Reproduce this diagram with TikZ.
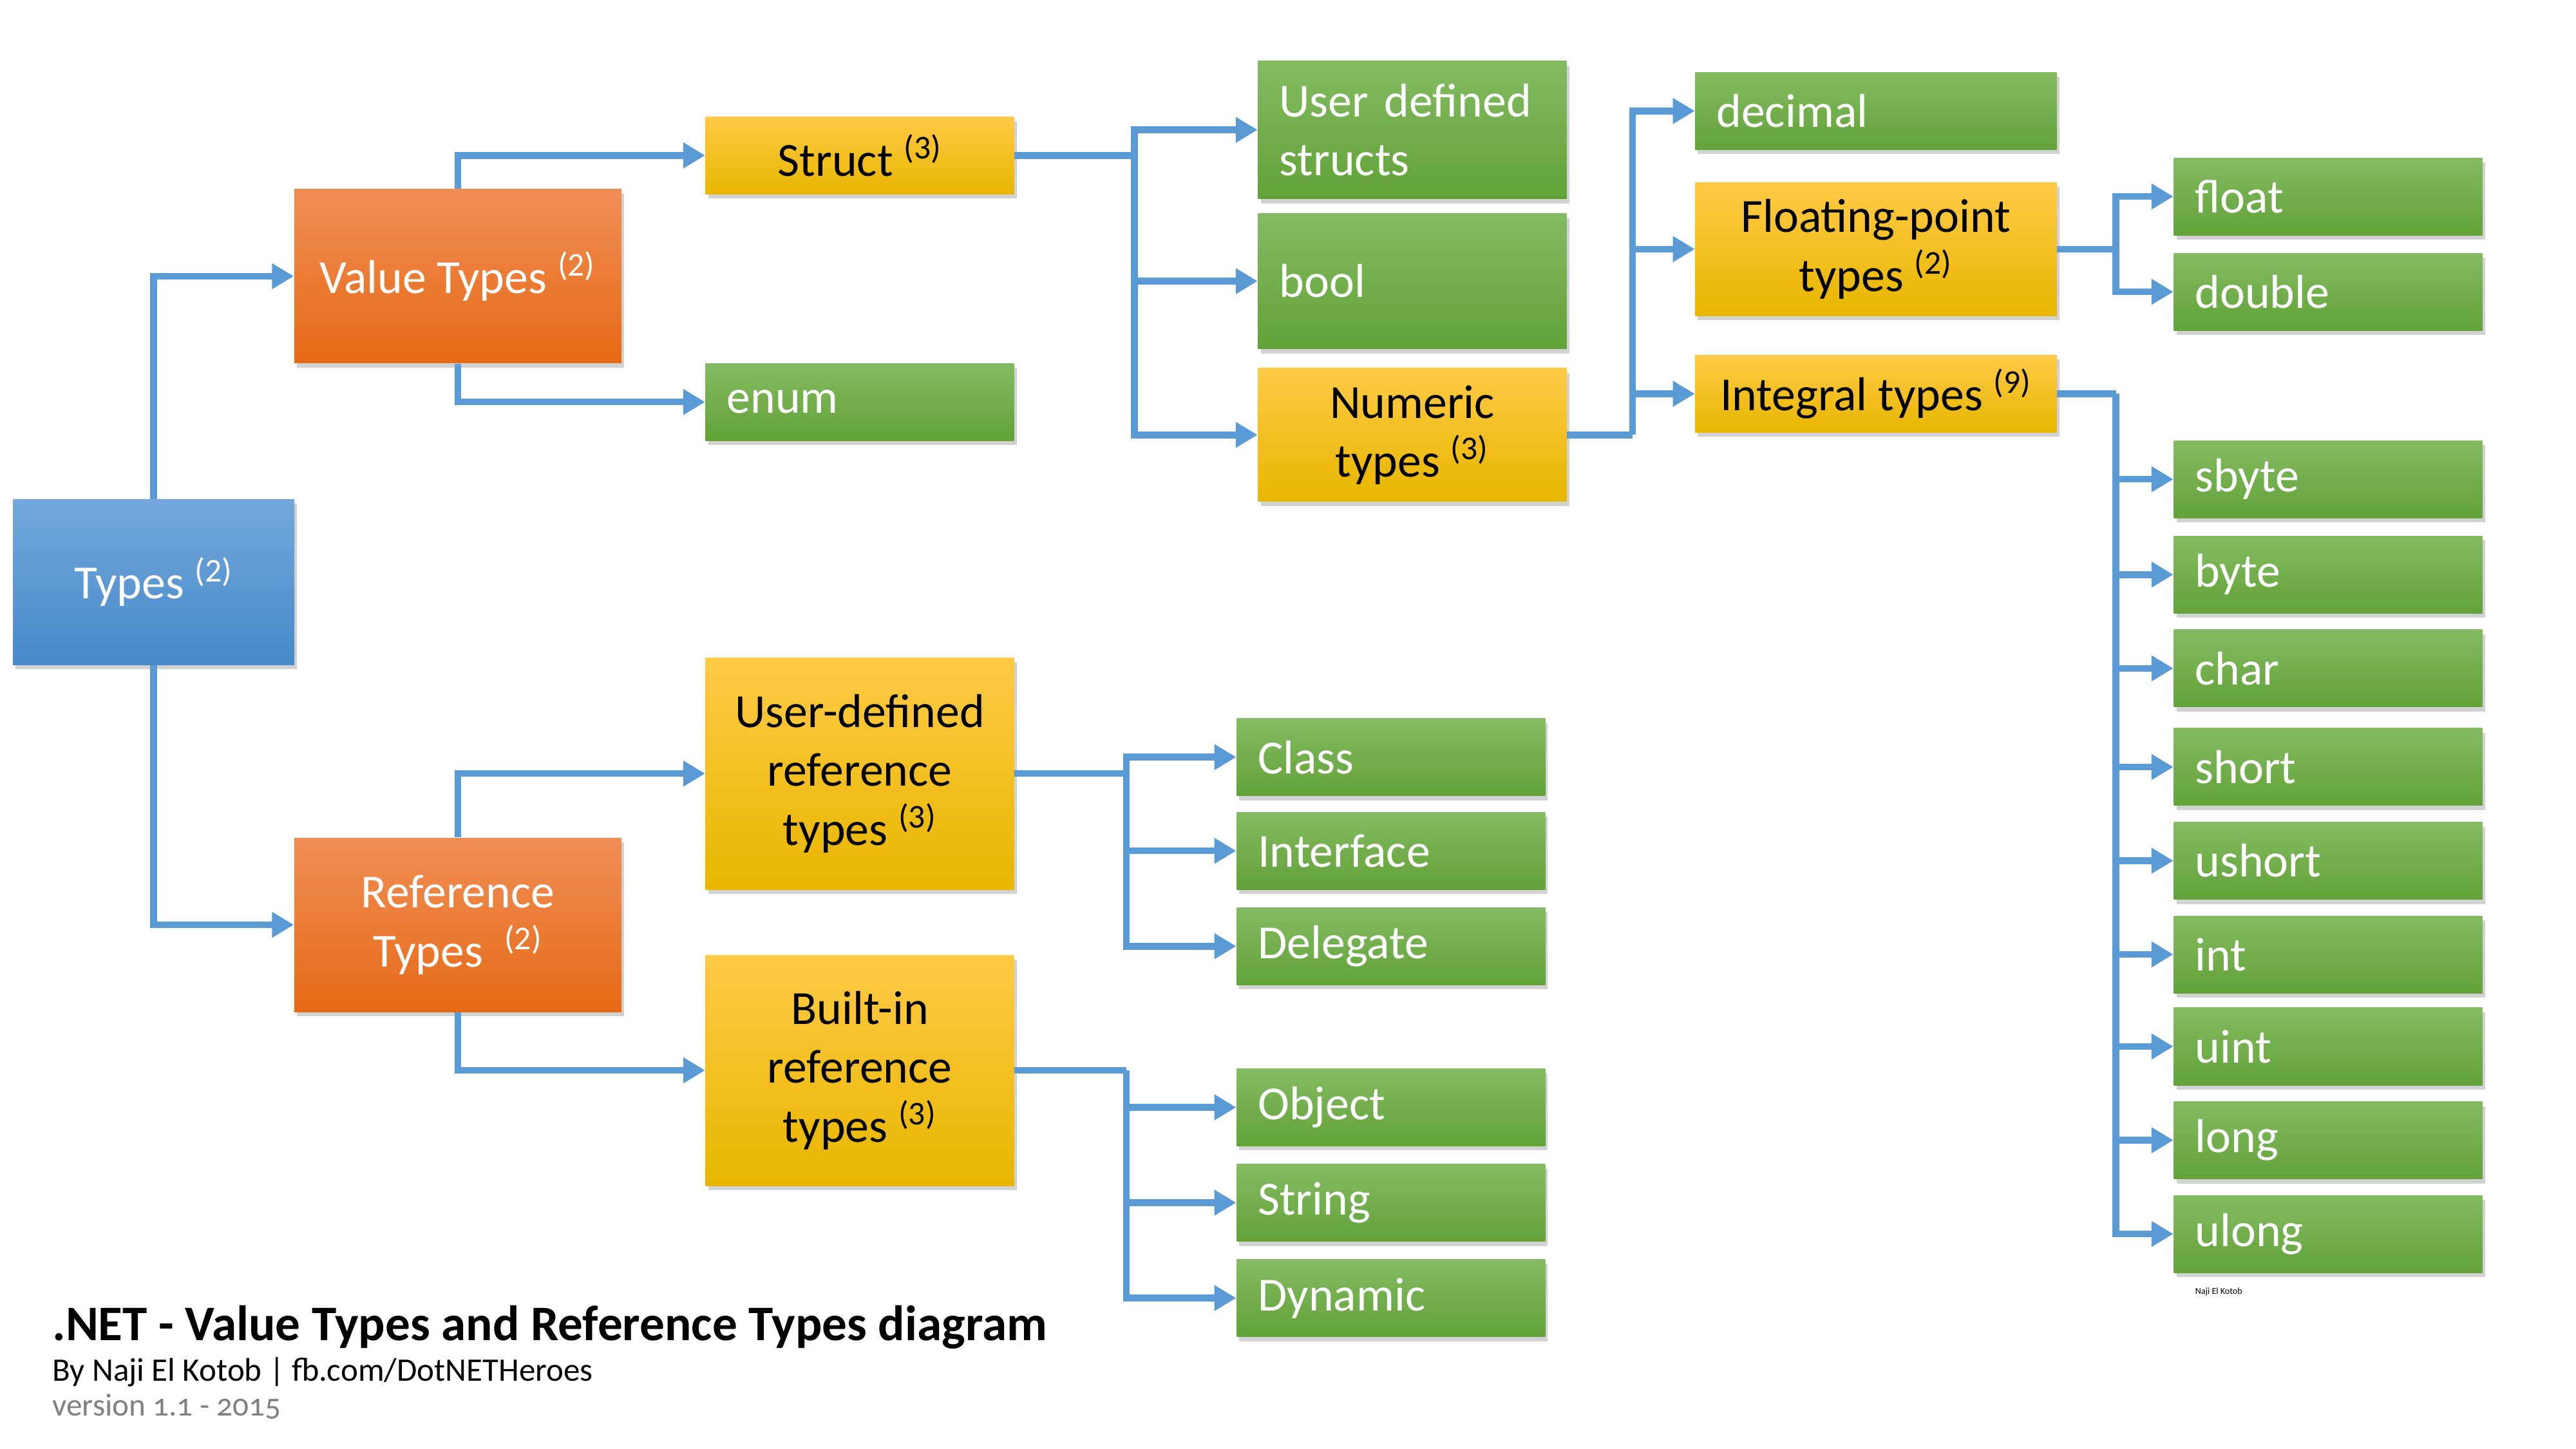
\documentclass[tikz,border=0pt]{standalone}
\usepackage{fontspec}
\setmainfont{Carlito}
\usetikzlibrary{arrows.meta,shadows}

\definecolor{linkblue}{RGB}{91,155,213}
\definecolor{gtop}{RGB}{132,187,98}
\definecolor{gbot}{RGB}{98,162,56}
\definecolor{ytop}{RGB}{255,202,70}
\definecolor{ybot}{RGB}{232,182,0}
\definecolor{otop}{RGB}{241,142,86}
\definecolor{obot}{RGB}{229,106,22}
\definecolor{btop}{RGB}{115,167,219}
\definecolor{bbot}{RGB}{70,138,202}

\newcommand{\cnt}[1]{\textsuperscript{(#1)}}

\tikzset{
  box/.style={rectangle, inner sep=0pt, font=\fontsize{21}{26}\selectfont,
    drop shadow={shadow xshift=0.04cm, shadow yshift=-0.07cm, opacity=0.35}},
  leaf/.style={box, top color=gtop, bottom color=gbot, text=white, align=left,
    text width=4.13cm, inner xsep=0.33cm, minimum height=1.2cm},
  wideleaf/.style={leaf, text width=4.95cm},
  group/.style={box, top color=ytop, bottom color=ybot, text=black, align=center,
    minimum width=4.79cm},
  widegroup/.style={group, minimum width=5.61cm},
  kind/.style={box, top color=otop, bottom color=obot, text=white, align=center,
    minimum width=5.08cm, minimum height=2.7cm},
  link/.style={line width=3pt, draw=linkblue},
  conn/.style={link, -{Triangle[length=0.34cm,width=0.38cm]}},
}

\begin{document}
\begin{tikzpicture}[x=0.02553cm, y=-0.02553cm]
    \useasboundingbox[fill=white] (0,0) rectangle (1566.8,881.3);

    % root and the two kinds
    \node[box, top color=btop, bottom color=bbot, text=white, minimum width=4.37cm, minimum height=2.57cm] (types) at (93.5,354) {Types \cnt{2}};
    \node[kind] (valtypes) at (278.5,168) {Value Types \cnt{2}};
    \node[kind] (reftypes) at (278.5,562.5) {Reference\\Types \ \cnt{2}};

    % value types
    \node[group, minimum height=1.2cm] (struct) at (523,94.5) {Struct \cnt{3}};
    \node[leaf] (enum) at (523,244.5) {enum};
    \node[leaf, minimum height=2.14cm] (uds) at (859,79) {User defined\\structs};
    \node[leaf, minimum height=2.1cm] (bool) at (859,171) {bool};
    \node[group, minimum height=2.07cm] (numeric) at (859,264.5) {Numeric\\types \cnt{3}};
    \node[wideleaf] (decimal) at (1141,67.5) {decimal};
    \node[widegroup, minimum height=2.07cm] (floating) at (1141,151.5) {Floating-point\\types \cnt{2}};
    \node[widegroup, minimum height=1.2cm] (integral) at (1141,239.5) {Integral types \cnt{9}};
    \node[leaf] (float) at (1416,119.5) {float};
    \node[leaf] (double) at (1416,177.5) {double};
    \node[leaf] (sbyte) at (1416,291.5) {sbyte};
    \node[leaf] (byte) at (1416,349.5) {byte};
    \node[leaf] (char) at (1416,406.5) {char};
    \node[leaf] (short) at (1416,466.5) {short};
    \node[leaf] (ushort) at (1416,523.5) {ushort};
    \node[leaf] (int) at (1416,580.5) {int};
    \node[leaf] (uint) at (1416,636.5) {uint};
    \node[leaf] (long) at (1416,693.5) {long};
    \node[leaf] (ulong) at (1416,750.5) {ulong};

    % reference types
    \node[group, minimum height=3.6cm] (udref) at (523,470.5) {User-defined\\reference\\types \cnt{3}};
    \node[group, minimum height=3.58cm] (builtin) at (523,651) {Built-in\\reference\\types \cnt{3}};
    \node[leaf] (class) at (846,460.5) {Class};
    \node[leaf] (interface) at (846,517.5) {Interface};
    \node[leaf] (delegate) at (846,575.5) {Delegate};
    \node[leaf] (object) at (846,673.5) {Object};
    \node[leaf] (string) at (846,731.5) {String};
    \node[leaf] (dynamic) at (846,789.5) {Dynamic};

    % forks
    \coordinate (structfork) at (690,94.5);
    \coordinate (numfork) at (993,264.5);
    \coordinate (floatfork) at (1287,151.5);
    \coordinate (intfork) at (1287,239.5);
    \coordinate (udfork) at (685,470.5);
    \coordinate (bifork) at (685,651);

    % connectors
    \draw[conn] (types.north) |- (valtypes.west);
    \draw[conn] (types.south) |- (reftypes.west);
    \draw[conn] (valtypes.north) |- (struct.west);
    \draw[conn] (valtypes.south) |- (enum.west);
    \draw[conn] (reftypes.north) |- (udref.west);
    \draw[conn] (reftypes.south) |- (builtin.west);

    \draw[link] (struct.east) -- (structfork);
    \foreach \n in {uds,bool,numeric}
        \draw[conn] (structfork) |- (\n.west);
    \draw[link] (numeric.east) -- (numfork);
    \foreach \n in {decimal,floating,integral}
        \draw[conn] (numfork) |- (\n.west);
    \draw[link] (floating.east) -- (floatfork);
    \foreach \n in {float,double}
        \draw[conn] (floatfork) |- (\n.west);
    \draw[link] (integral.east) -- (intfork);
    \foreach \n in {sbyte,byte,char,short,ushort,int,uint,long,ulong}
        \draw[conn] (intfork) |- (\n.west);
    \draw[link] (udref.east) -- (udfork);
    \foreach \n in {class,interface,delegate}
        \draw[conn] (udfork) |- (\n.west);
    \draw[link] (builtin.east) -- (bifork);
    \foreach \n in {object,string,dynamic}
        \draw[conn] (bifork) |- (\n.west);

    % captions
    \node[anchor=base west, inner sep=0pt, font=\fontsize{22}{26}\selectfont\bfseries] (title) at (31.6,815.5) {.NET - Value Types and Reference Types diagram};
    \node[anchor=base west, inner sep=0pt, font=\fontsize{14.5}{17}\selectfont] (byline) at (31.6,840) {By Naji El Kotob | fb.com/DotNETHeroes};
    \node[anchor=base west, inner sep=0pt, font=\fontsize{14}{17}\selectfont\addfontfeatures{Numbers=OldStyle}, text=black!50] (version) at (31.6,861) {version 1.1 - 2015};
    \node[anchor=base west, inner sep=0pt, font=\fontsize{4}{5}\selectfont] (sign) at (1335,787) {Naji El Kotob};
\end{tikzpicture}
\end{document}
